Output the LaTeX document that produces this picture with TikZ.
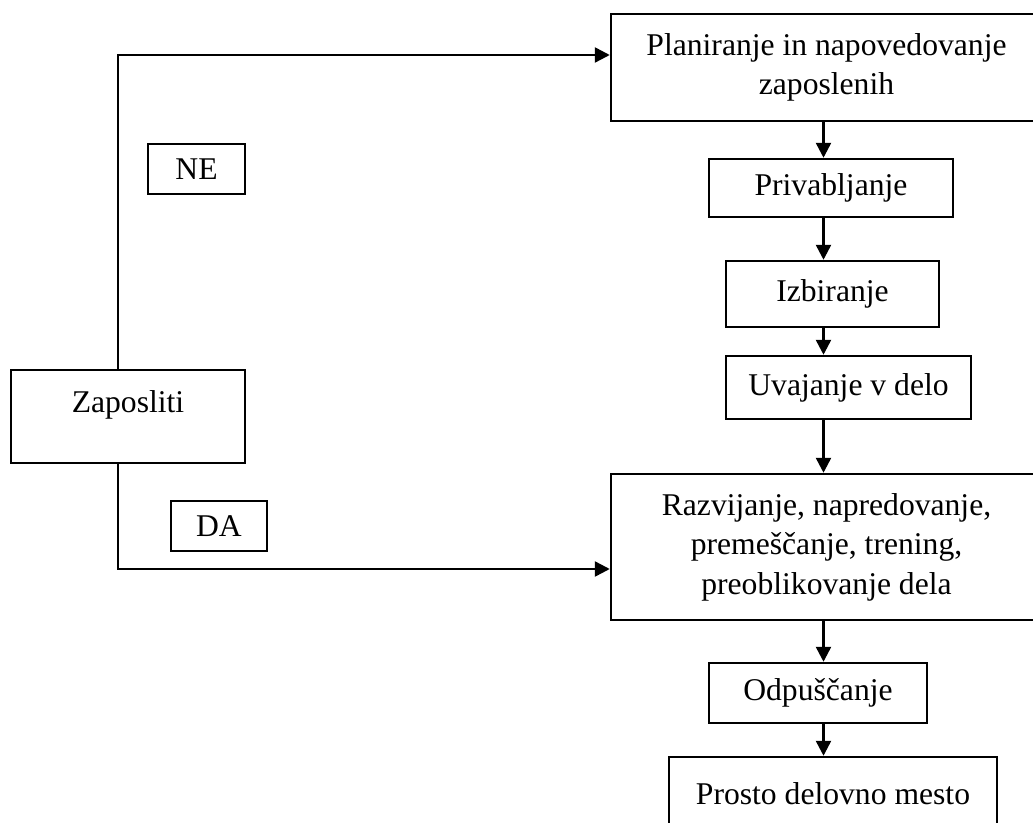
\documentclass[tikz,border=0pt]{standalone}
\usepackage{fontspec}
\setmainfont{Liberation Serif}
\usetikzlibrary{arrows.meta}

\begin{document}
\begin{tikzpicture}[
    box/.style={draw, line width=1.4pt, inner sep=0pt, align=center,
      font=\fontsize{18}{22.5}\selectfont},
    arr/.style={line width=1.4pt, -{Triangle[length=0.3cm,width=0.3cm]}}
  ]
  \useasboundingbox (0,0) rectangle (20.66,16.44);

  % right column
  \node[box, minimum width=8.62cm, minimum height=2.14cm] (plan) at (16.53,15.09)
    {Planiranje in napovedovanje\\zaposlenih};
  \node[box, minimum width=4.88cm, minimum height=1.16cm] (privab) at (16.62,12.68) {Privabljanje};
  \node[box, minimum width=4.26cm, minimum height=1.32cm] (izbir) at (16.65,10.56) {Izbiranje};
  \node[box, minimum width=4.90cm, minimum height=1.26cm] (uvaj) at (16.97,8.69) {Uvajanje v delo};
  \node[box, minimum width=8.62cm, minimum height=2.92cm] (razv) at (16.53,5.50)
    {Razvijanje, napredovanje,\\premeščanje, trening,\\preoblikovanje dela};
  \node[box, minimum width=4.36cm, minimum height=1.20cm] (odpus) at (16.36,2.58) {Odpuščanje};
  \node[box, minimum width=6.56cm, minimum height=1.46cm] (prosto) at (16.66,0.57) {Prosto delovno mesto};

  % left side
  \node[box, minimum width=4.68cm, text height=0.84cm, text depth=1.02cm, anchor=base] (zap) at (2.56,8.20) {Zaposliti};
  \node[box, minimum width=1.94cm, minimum height=1.00cm] (ne) at (3.93,13.06) {NE};
  \node[box, minimum width=1.92cm, minimum height=1.00cm] (da) at (4.38,5.92) {DA};

  \coordinate (spine) at (16.47,0);
  \coordinate (topbend) at (2.36,15.34);
  \coordinate (lowbend) at (2.36,5.06);

  \draw[arr] (zap.north -| topbend) -- (topbend) -- (topbend -| plan.west);
  \draw[arr] (zap.south -| lowbend) -- (lowbend) -- (lowbend -| razv.west);

  \draw[arr] (plan.south -| spine) -- (privab.north -| spine);
  \draw[arr] (privab.south -| spine) -- (izbir.north -| spine);
  \draw[arr] (izbir.south -| spine) -- (uvaj.north -| spine);
  \draw[arr] (uvaj.south -| spine) -- (razv.north -| spine);
  \draw[arr] (razv.south -| spine) -- (odpus.north -| spine);
  \draw[arr] (odpus.south -| spine) -- (prosto.north -| spine);
\end{tikzpicture}
\end{document}
